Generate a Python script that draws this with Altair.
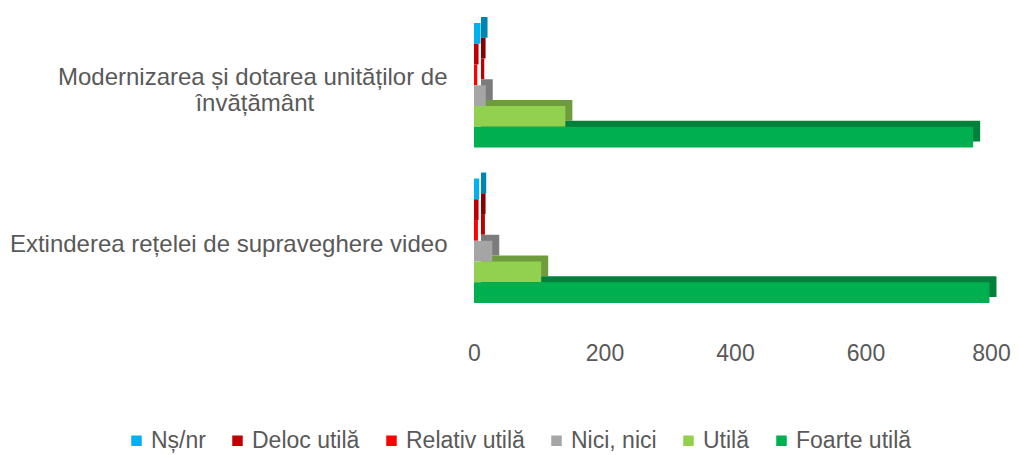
import altair as alt
import pandas as pd

categories = [
    "Modernizarea și dotarea unităților de învățământ",
    "Extinderea rețelei de supraveghere video",
]
series = ["Nș/nr", "Deloc utilă", "Relativ utilă", "Nici, nici", "Utilă", "Foarte utilă"]
values_modernizare = [10, 7, 5, 18, 140, 765]
values_video = [8, 7, 6, 28, 103, 790]
colors = ["#00B0F0", "#C00000", "#FF0000", "#A5A5A5", "#92D050", "#00B050"]
side_colors = ["#0084B4", "#8A0000", "#BF0000", "#7C7C7C", "#6E9C3C", "#00803A"]
x_ticks = [0, 200, 400, 600, 800]

rows = []
for cat, vals in zip(categories, [values_modernizare, values_video]):
    for s, v in zip(series, vals):
        rows.append({"categorie": cat, "serie": s, "valoare": v})
df = pd.DataFrame(rows)

FONT = "Liberation Sans"
GREY = "#595959"
PAD = "\u00a0" * 20 + "\u200b"
H = 310
W = 522

label_expr = (
    f"datum.value == '{categories[0]}' ? "
    f"['Modernizarea și dotarea unităților de', 'învățământ{PAD}'] : datum.label"
)

yoff = alt.YOffset("serie:N", sort=series, scale=alt.Scale(paddingInner=0, paddingOuter=0))
x_axis = alt.Axis(values=x_ticks, grid=False, domain=False, ticks=False,
                  labelFontSize=23, labelColor=GREY, labelFont=FONT,
                  labelPadding=24, labelFlush=False, title=None,
                  labelOffset={"condition": {"test": "datum.value == 800", "value": -5},
                               "value": 0})
x_scale = alt.Scale(domain=[0, 800], nice=False)

depth = alt.Chart(df).mark_bar(xOffset=7, x2Offset=7).encode(
    x=alt.X("valoare:Q", scale=x_scale, axis=x_axis),
    y=alt.Y("categorie:N", sort=categories, axis=None,
            scale=alt.Scale(paddingInner=0.2, paddingOuter=0.0965, range=[-6, H - 6])),
    yOffset=yoff,
    color=alt.Color("serie:N", sort=series,
                    scale=alt.Scale(domain=series, range=side_colors), legend=None),
)

front = alt.Chart(df).mark_bar().encode(
    x=alt.X("valoare:Q", scale=x_scale, axis=x_axis),
    y=alt.Y("categorie:N", sort=categories, title=None,
            scale=alt.Scale(paddingInner=0.2, paddingOuter=0.0965, range=[0, H]),
            axis=alt.Axis(domain=False, ticks=False, grid=False,
                          labelFontSize=24, labelColor=GREY, labelFont=FONT,
                          labelPadding=27, labelLimit=600, labelLineHeight=26,
                          labelOffset={"condition": {"test": f"datum.value == '{categories[0]}'",
                                                     "value": -7}, "value": 4},
                          labelExpr=label_expr, minExtent=466, maxExtent=466)),
    yOffset=yoff,
    color=alt.Color("serie:N", sort=series,
                    scale=alt.Scale(domain=series, range=colors),
                    legend=alt.Legend(orient="none", legendX=-349, legendY=421,
                                      direction="horizontal", title=None,
                                      symbolType="square", symbolSize=110,
                                      symbolStrokeWidth=0, symbolOpacity=1,
                                      labelFontSize=23, labelColor=GREY, labelFont=FONT,
                                      labelOffset=3, columnPadding=20)),
)

chart = (
    alt.layer(depth, front)
    .resolve_scale(color="independent", y="independent")
    .properties(width=W, height=H, padding={"left": 0, "top": 0, "right": 0, "bottom": 0})
    .configure_view(stroke=None)
)

chart.save("out.html", embed_options={"renderer": "svg", "actions": False})
